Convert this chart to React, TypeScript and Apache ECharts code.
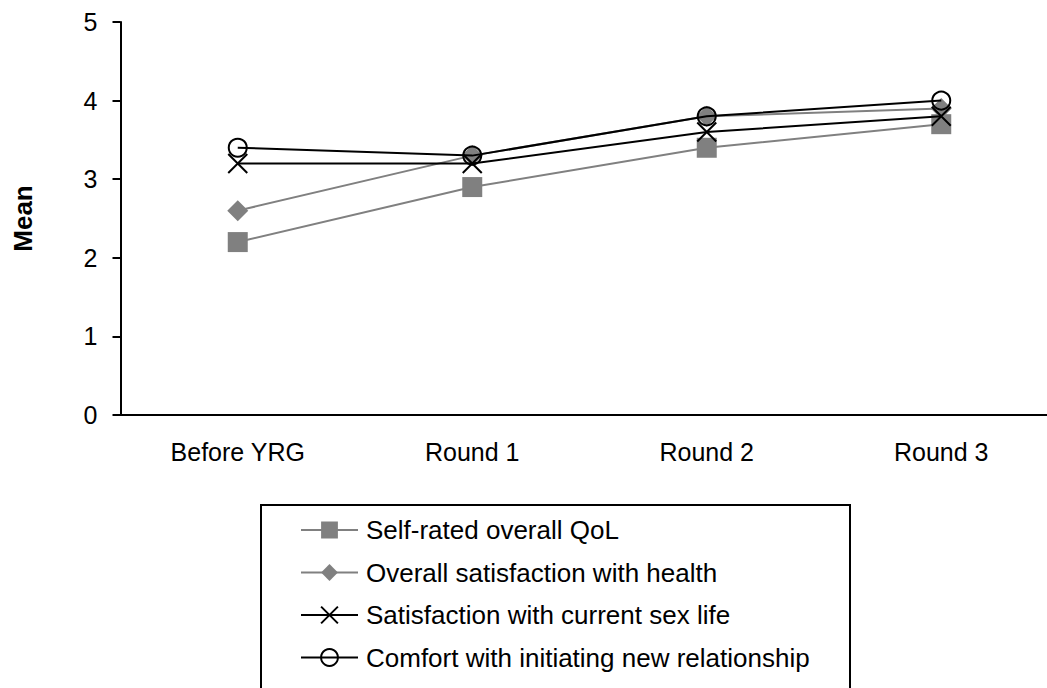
import React, { useEffect, useRef } from "react";
import * as echarts from "echarts";

const categories = ["Before YRG", "Round 1", "Round 2", "Round 3"];
const qolValues = [2.2, 2.9, 3.4, 3.7];
const healthValues = [2.6, 3.3, 3.8, 3.9];
const sexLifeValues = [3.2, 3.2, 3.6, 3.8];
const relationshipValues = [3.4, 3.3, 3.8, 4.0];
const seriesNames = [
  "Self-rated overall QoL",
  "Overall satisfaction with health",
  "Satisfaction with current sex life",
  "Comfort with initiating new relationship",
];
const yMin = 0;
const yMax = 5;
const yInterval = 1;

const FONT = '"Liberation Sans", Arial, sans-serif';
const GRAY = "#808080";
const BLACK = "#000000";
const X_SYMBOL = "path://M0,0L20,20M20,0L0,20";

export default function App() {
  const ref = useRef<HTMLDivElement>(null);

  useEffect(() => {
    if (!ref.current) return;
    const chart = echarts.init(ref.current, undefined, { renderer: "svg" });
    chart.setOption({
      animation: false,
      backgroundColor: "#ffffff",
      textStyle: { fontFamily: FONT, color: BLACK },
      grid: {
        left: 120.5,
        top: 22,
        width: 938,
        height: 393,
        containLabel: false,
        outerBoundsMode: "none",
      },
      xAxis: {
        type: "category",
        data: categories,
        boundaryGap: true,
        axisLine: { show: true, lineStyle: { color: BLACK, width: 2 } },
        axisTick: { show: false },
        axisLabel: { color: BLACK, fontSize: 25, fontFamily: FONT, margin: 24 },
        splitLine: { show: false },
      },
      yAxis: {
        type: "value",
        min: yMin,
        max: yMax,
        interval: yInterval,
        name: "Mean",
        nameLocation: "middle",
        nameGap: 85,
        nameTextStyle: { fontSize: 26, fontWeight: "bold", color: BLACK, fontFamily: FONT },
        axisLine: { show: true, lineStyle: { color: BLACK, width: 2 } },
        axisTick: { show: true, inside: false, length: 8, lineStyle: { color: BLACK, width: 2 } },
        axisLabel: { color: BLACK, fontSize: 25, fontFamily: FONT, margin: 23 },
        splitLine: { show: false },
      },
      legend: {
        orient: "vertical",
        left: 300,
        top: 517,
        padding: 0,
        itemWidth: 57,
        itemHeight: 21,
        itemGap: 16.5,
        textStyle: { fontSize: 26, lineHeight: 26, color: BLACK, fontFamily: FONT, padding: [0, 0, 0, 3] },
        data: seriesNames,
      },
      graphic: [
        {
          type: "rect",
          shape: { x: 261, y: 505, width: 589, height: 230 },
          style: { fill: "none", stroke: BLACK, lineWidth: 2 },
          silent: true,
        },
      ],
      series: [
        {
          name: seriesNames[0],
          type: "line",
          data: qolValues,
          symbol: "rect",
          symbolSize: 20,
          lineStyle: { color: GRAY, width: 2 },
          itemStyle: { color: GRAY },
          z: 2,
        },
        {
          name: seriesNames[1],
          type: "line",
          data: healthValues,
          symbol: "diamond",
          symbolSize: 21,
          lineStyle: { color: GRAY, width: 2 },
          itemStyle: { color: GRAY },
          z: 3,
        },
        {
          name: seriesNames[2],
          type: "line",
          data: sexLifeValues,
          symbol: X_SYMBOL,
          symbolSize: 19,
          lineStyle: { color: BLACK, width: 2 },
          itemStyle: { color: "rgba(0,0,0,0)", borderColor: BLACK, borderWidth: 2 },
          z: 4,
        },
        {
          name: seriesNames[3],
          type: "line",
          data: relationshipValues,
          symbol: "circle",
          symbolSize: 18,
          lineStyle: { color: BLACK, width: 2 },
          itemStyle: { color: "rgba(0,0,0,0)", borderColor: BLACK, borderWidth: 2 },
          z: 5,
        },
      ],
    });
    return () => chart.dispose();
  }, []);

  return (
    <div
      ref={ref}
      style={{ position: "absolute", left: 0, top: 0, width: 1047, height: 688, background: "#fff" }}
    />
  );
}
